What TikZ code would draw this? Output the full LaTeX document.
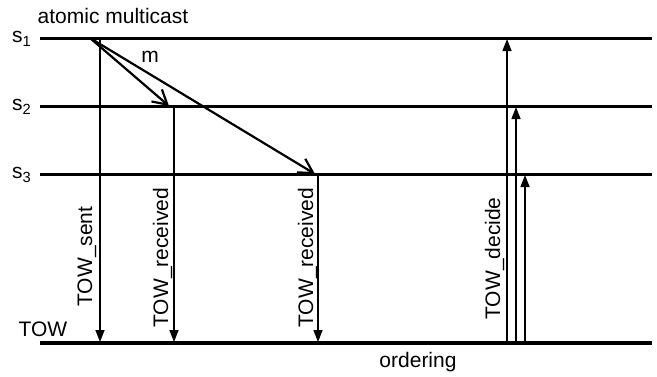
\documentclass[tikz,border=0pt]{standalone}
\usepackage{fontspec}
\setmainfont{Liberation Sans}
\usetikzlibrary{arrows.meta}

\begin{document}
\begin{tikzpicture}[
    x=0.5pt, y=-0.5pt,
    every node/.style = {font=\fontsize{10.5}{12}\selectfont, inner sep=0pt},
    timeline/.style = {line width=1.5pt},
    message/.style = {line width=1.1pt, -{Straight Barb[length=7pt, width=8pt, line width=1.1pt]}},
    stamp/.style = {line width=0.7pt, -{Triangle[length=6pt, width=4.5pt]}},
    vlabel/.style = {rotate=90, anchor=base west}
  ]
\useasboundingbox (0,0) rectangle (657,376);
% process lines
\coordinate (s1w) at (40,38);   \coordinate (s1e) at (652,38);
\coordinate (s2w) at (40,106);  \coordinate (s2e) at (652,106);
\coordinate (s3w) at (40,174);  \coordinate (s3e) at (652,174);
\coordinate (tw) at (40,343);   \coordinate (te) at (652,343);
\draw[timeline] (s1w) -- (s1e);
\draw[timeline] (s2w) -- (s2e);
\draw[timeline] (s3w) -- (s3e);
\draw[timeline, line width=1.7pt] (tw) -- (te);
\node (s1) at (22,39) {s\textsubscript{1}};
\node (s2) at (22,107) {s\textsubscript{2}};
\node (s3) at (22,175) {s\textsubscript{3}};
\node (tow) at (43,329) {TOW};
\node (title) at (113,16) {atomic multicast};
\node (order) at (418,362) {ordering};
% multicast of m
\coordinate (send) at (90,38);
\coordinate (recv2) at (169,106);
\coordinate (recv3) at (315,174);
\draw[message] (send) -- (recv2);
\draw[message] (send) -- (recv3);
\node (m) at (150,57) {m};
% timestamps down to the TOW line
\coordinate (sent) at (100,38);     \coordinate (sentT) at (100,342);
\coordinate (rc2) at (174,106);     \coordinate (rc2T) at (174,342);
\coordinate (rc3) at (318,174);     \coordinate (rc3T) at (318,342);
\draw[stamp] (sent) -- (sentT);
\draw[stamp] (rc2) -- (rc2T);
\draw[stamp] (rc3) -- (rc3T);
\node[vlabel] (lsent) at (92,307) {TOW\_sent};
\node[vlabel] (lrc2) at (168,328) {TOW\_received};
\node[vlabel] (lrc3) at (313,328) {TOW\_received};
% decision back up to the servers
\coordinate (d1T) at (507,343);     \coordinate (d1) at (507,39);
\coordinate (d2T) at (516,343);     \coordinate (d2) at (516,107);
\coordinate (d3T) at (525,343);     \coordinate (d3) at (525,175);
\draw[stamp] (d1T) -- (d1);
\draw[stamp] (d2T) -- (d2);
\draw[stamp] (d3T) -- (d3);
\node[vlabel] (ldec) at (500,320) {TOW\_decide};
\end{tikzpicture}
\end{document}
